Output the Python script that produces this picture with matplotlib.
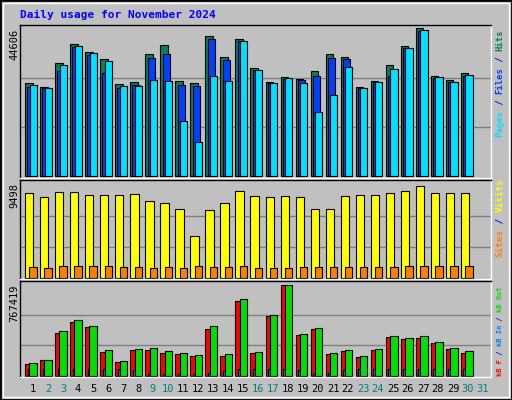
import numpy as np
import matplotlib
matplotlib.use('Agg')
import matplotlib.pyplot as plt
from matplotlib.patches import Rectangle

days = list(range(1, 31))
hits  = [27955, 26740, 34005, 39860, 37335, 35215, 27650, 28255, 36730, 39455,
         28555, 27950, 42180, 35820, 41270, 32490, 28255, 29770, 29160, 31585,
         36730, 35820, 26740, 28555, 33400, 39150, 44606, 30070, 28860, 30980]
files = [26740, 26440, 31685, 38950, 36430, 31080, 26440, 27345, 35520, 36730,
         27345, 27040, 41270, 34910, 40665, 31885, 27950, 29160, 28860, 30070,
         35520, 35215, 26440, 28255, 30070, 38545, 43690, 29465, 28255, 30070]
pages = [27345, 26440, 33400, 39150, 37030, 34610, 27040, 27040, 28860, 28555,
         16750, 10395, 30070, 28555, 40665, 31885, 27950, 29465, 27950, 19475,
         24620, 32795, 26440, 28255, 32190, 38545, 44000, 29770, 28255, 30375]
visits = [8775, 8360, 8880, 8880, 8570, 8570, 8570, 8670, 7950, 7740,
          7125, 4335, 7020, 7740, 8980, 8465, 8360, 8465, 8360, 7125,
          7125, 8465, 8570, 8570, 8775, 8980, 9498, 8775, 8775, 8775]
sites = [1067, 963, 1170, 1170, 1170, 1170, 1067, 1067, 963, 1067,
         963, 1170, 1067, 1067, 1170, 963, 963, 963, 1067, 1067,
         1067, 1067, 1067, 1067, 1067, 1170, 1170, 1170, 1170, 1170]
kb_f = [101e3, 135e3, 363e3, 455e3, 413e3, 202e3, 118e3, 219e3, 219e3, 194e3,
        186e3, 169e3, 396e3, 169e3, 632e3, 194e3, 506e3, 767419, 346e3, 396e3,
        186e3, 211e3, 160e3, 219e3, 329e3, 312e3, 320e3, 278e3, 228e3, 194e3]
kb_out = [110e3, 135e3, 379e3, 472e3, 422e3, 219e3, 126e3, 228e3, 236e3, 211e3,
          194e3, 177e3, 422e3, 186e3, 649e3, 202e3, 514e3, 767419, 354e3, 405e3,
          194e3, 219e3, 169e3, 228e3, 337e3, 320e3, 337e3, 287e3, 236e3, 211e3]
kb_in = [59e3, 59e3, 59e3, 59e3, 59e3, 59e3, 59e3, 50e3, 14e3, 14e3,
         14e3, 14e3, 25e3, 40e3, 59e3, 59e3, 59e3, 59e3, 50e3, 14e3,
         25e3, 50e3, 59e3, 59e3, 59e3, 59e3, 59e3, 59e3, 59e3, 59e3]
weekend = [2, 3, 9, 10, 16, 17, 23, 24, 30, 31]

BG = '#C0C0C0'
W, H = 512, 400
fig = plt.figure(figsize=(W / 100, H / 100), dpi=100, facecolor=BG)
MONO = 'DejaVu Sans Mono'

# frame
fig.patches.append(Rectangle((0, 0), 1, 1, transform=fig.transFigure, fill=False,
                             ec='black', lw=2))
fig.patches.append(Rectangle((3 / W, 3 / H), 1 - 6 / W, 1 - 6 / H, transform=fig.transFigure,
                             fill=False, ec='white', lw=1))


def make_ax(top, bottom):
    ax = fig.add_axes([20 / W, 1 - bottom / H, 471 / W, (bottom - top) / H], facecolor=BG)
    ax.set_xlim(-1 / 3, 31)
    ax.set_xticks([])
    ax.set_yticks([])
    for s in ax.spines.values():
        s.set_color('white')
        s.set_linewidth(1)
    ax.spines['left'].set_color('black')
    ax.spines['top'].set_color('black')
    return ax


def grid(ax, top):
    for f in (1 / 3, 2 / 3):
        ax.axhline(top * f, color='#808080', lw=1, zorder=0)


x = np.arange(30)
kw = dict(align='edge', edgecolor='black', linewidth=0.8)

ax1 = make_ax(25, 178)
ax1.set_ylim(-44606 * 1.5 / 147, 44606 * 150 / 147)
grid(ax1, 44606)
ax1.bar(x, hits, 0.5, color='#00805C', **kw)
ax1.bar(x + 0.15, files, 0.5, color='#0040FF', **kw)
ax1.bar(x + 0.3, pages, 0.48, color='#00E0FF', **kw)

ax2 = make_ax(180, 279)
ax2.set_ylim(-9498 * 1.5 / 92, 9498 * 98 / 92)
grid(ax2, 9498)
ax2.bar(x, visits, 0.55, color='#FFFF00', **kw)
ax2.bar(x + 0.29, sites, 0.49, color='#FF8000', **kw)

ax3 = make_ax(281, 377)
ax3.set_ylim(-767419 * 1.5 / 91, 767419 * 95 / 91)
grid(ax3, 767419)
ax3.bar(x, kb_f, 0.45, color='#FF0000', **kw)
ax3.bar(x + 0.17, kb_in, 0.13, color='#0080FF', **kw)
ax3.bar(x + 0.29, kb_out, 0.49, color='#00E000', **kw)

# title
fig.text(20 / W, 1 - 15 / H, 'Daily usage for November 2024', color='#0000FF',
         family=MONO, weight='bold', fontsize=8, va='center')

# left max labels
for txt, ytop in (('44606', 29), ('9498', 183), ('767419', 285)):
    fig.text(14 / W, 1 - ytop / H, txt, rotation=90, family=MONO, fontsize=7.5,
             ha='center', va='top')


# right legend labels, read bottom to top
def legend(parts, ybottom, fs):
    adv = 0.602 * fs * 100 / 72
    y = ybottom
    for txt, col in parts:
        fig.text(500 / W, 1 - y / H, txt, rotation=90, family=MONO, fontsize=fs,
                 weight='bold', color=col, ha='center', va='bottom')
        y -= adv * len(txt)


legend([('Pages', '#00E0FF'), (' / ', '#0000FF'), ('Files', '#0040FF'),
        (' / ', '#0000FF'), ('Hits', '#00805C')], 137, 6.4)
legend([('Sites', '#FF8000'), (' / ', '#0000FF'), ('Visits', '#FFFF00')], 257, 6.7)
legend([('kB F', '#FF0000'), (' / ', '#0000FF'), ('kB In', '#0080FF'),
        (' / ', '#0000FF'), ('kB Out', '#00E000')], 376, 5.1)

# day labels
for d in range(1, 32):
    px = 25 + 15 * (d - 1) + 8
    fig.text(px / W, 1 - 389 / H, str(d), family=MONO, fontsize=7.5, ha='center',
             va='center', color='#008080' if d in weekend else 'black')

fig.savefig('out.png', dpi=100, facecolor=BG)
